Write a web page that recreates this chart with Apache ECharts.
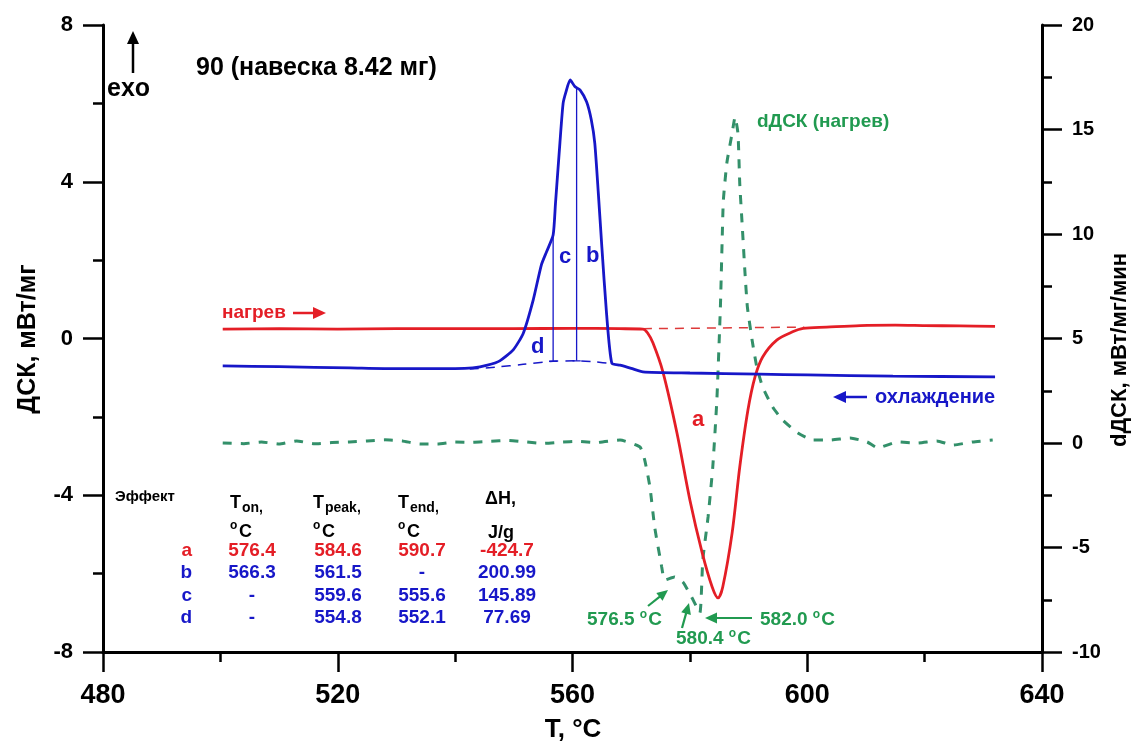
<!DOCTYPE html>
<html><head><meta charset="utf-8">
<script src="https://cdn.jsdelivr.net/npm/echarts@6/dist/echarts.min.js"></script>
<style>html,body{margin:0;padding:0;background:#fff}#c{width:1140px;height:746px}</style>
</head><body><div id="c"></div>
<script>
// ---------- data ----------
const xTicks = [480, 520, 560, 600, 640];
const yLeftTicks = [-8, -4, 0, 4, 8];
const yRightTicks = [-10, -5, 0, 5, 10, 15, 20];

// heating DSC (red), mW/mg
const heatT   = [500.4, 510, 520, 530, 540, 550, 560, 568, 572.0, 572.8, 573.7, 575.4, 577.8, 580.0, 582.1, 583.8, 584.8, 585.6, 587.2, 588.5, 589.9, 591.1, 592.4, 594.8, 597.5, 599.3, 603.3, 609.0, 615, 620, 626, 632.0];
const heatDSC = [0.24, 0.25, 0.24, 0.25, 0.25, 0.25, 0.26, 0.25, 0.24, 0.14, -0.11, -0.85, -2.41, -4.12, -5.47, -6.34, -6.62, -6.34, -4.96, -3.28, -1.82, -0.98, -0.47, -0.04, 0.17, 0.26, 0.29, 0.33, 0.34, 0.33, 0.32, 0.31];
// heating baseline (dashed red)
const heatBaseT   = [572.0, 599.5];
const heatBaseDSC = [0.25, 0.29];

// cooling DSC (blue)
const coolT   = [500.4, 510, 522.1, 530, 540, 543, 545.5, 547.6, 549.9, 551.6, 553.3, 554.7, 555.6, 556.7, 557.1, 557.85, 558.4, 558.9, 559.6, 560.4, 561.3, 562.4, 563.2, 563.8, 564.4, 565.0, 565.8, 566.7, 568.1, 570, 572.0, 580, 591.9, 600, 614.6, 632.0];
const coolDSC = [-0.70, -0.72, -0.75, -0.77, -0.77, -0.75, -0.68, -0.57, -0.29, 0.13, 0.98, 1.88, 2.22, 2.64, 3.45, 4.98, 6.0, 6.30, 6.60, 6.43, 6.34, 6.04, 5.58, 4.98, 3.71, 2.34, 0.64, -0.63, -0.68, -0.76, -0.85, -0.88, -0.91, -0.93, -0.96, -0.98];
// cooling baseline (dashed blue)
const coolBaseT   = [542.5, 547, 551.6, 556.7, 560.7, 564, 566.7];
const coolBaseDSC = [-0.78, -0.73, -0.66, -0.58, -0.57, -0.6, -0.64];
// vertical markers c and b
const markT    = [556.7, 560.7];
const markBase = [-0.58, -0.57];
const markTop  = [2.64, 6.40];

// derivative dDSC (green dashed), mW/mg/min
const dT   = [500.4, 504, 507, 510, 513, 516, 519, 522, 525, 528, 531, 534, 537, 540, 543, 546, 549, 552, 555, 558, 561, 564, 568.1, 571.5, 572.3, 573.2, 574.0, 575.2, 575.7, 577.4, 578.8, 580.3, 581.7, 582.2, 583.1, 583.9, 584.6, 585.2, 585.5, 585.7, 586.3, 587.2, 587.7, 588.2, 588.5, 588.9, 589.4, 589.8, 590.6, 591.4, 592.4, 594.1, 595.8, 598.4, 601.0, 603.8, 607.3, 610.2, 612.0, 615.3, 618.7, 622.1, 624.8, 628.2, 631.6];
const dDSC = [0.0, -0.03, 0.05, -0.05, 0.1, -0.04, 0.02, 0.05, 0.1, 0.15, 0.1, -0.05, -0.05, 0.05, 0.03, 0.08, 0.12, 0.05, -0.02, 0.04, 0.08, 0.02, 0.14, -0.19, -0.81, -2.11, -4.02, -5.93, -6.56, -6.41, -6.65, -7.37, -8.13, -5.6, -3.54, -1.15, 2.06, 6.5, 9.7, 11.6, 13.4, 14.83, 15.6, 14.8, 12.4, 10.5, 8.1, 6.5, 4.93, 3.64, 2.68, 1.72, 1.1, 0.48, 0.14, 0.14, 0.24, 0.05, -0.24, 0.05, 0.0, 0.1, -0.1, 0.05, 0.14];

// effect table
const tableEffects = ['a', 'b', 'c', 'd'];
const tableTon   = ['576.4', '566.3', '-', '-'];
const tableTpeak = ['584.6', '561.5', '559.6', '554.8'];
const tableTend  = ['590.7', '-', '555.6', '552.1'];
const tableDH    = ['-424.7', '200.99', '145.89', '77.69'];

// ---------- styling ----------
const RED = '#e41e26', BLUE = '#1717c8', GREEN = '#33906a', GTXT = '#219a50';
const F = '"Liberation Sans", Arial, sans-serif';
const FN = '"Liberation Sans Narrow", "Liberation Sans", Arial, sans-serif';
const zip = (a, b) => a.map((v, i) => [v, b[i]]);

const chart = echarts.init(document.getElementById('c'));

function axisCommon() {
  return {
    axisLine: { show: true, onZero: false, lineStyle: { color: '#000', width: 3 } },
    axisTick: { show: true, inside: false, length: 20, lineStyle: { color: '#000', width: 2.5 } },
    minorTick: { show: true, splitNumber: 2, length: 10, lineStyle: { color: '#000', width: 2.5 } },
    splitLine: { show: false },
    minorSplitLine: { show: false }
  };
}

const option = {
  animation: false,
  backgroundColor: '#fff',
  grid: { left: 103, right: 98, top: 25, bottom: 94 },
  xAxis: Object.assign(axisCommon(), {
    type: 'value', min: xTicks[0], max: xTicks[xTicks.length - 1], interval: xTicks[1] - xTicks[0],
    axisLabel: { fontFamily: FN, fontWeight: 'bold', fontSize: 27, color: '#000', margin: 30 }
  }),
  yAxis: [
    Object.assign(axisCommon(), {
      type: 'value', min: yLeftTicks[0], max: yLeftTicks[yLeftTicks.length - 1], interval: yLeftTicks[1] - yLeftTicks[0],
      position: 'left',
      axisLabel: { fontFamily: F, fontWeight: 'bold', fontSize: 22, color: '#000', margin: 30 }
    }),
    Object.assign(axisCommon(), {
      type: 'value', min: yRightTicks[0], max: yRightTicks[yRightTicks.length - 1], interval: yRightTicks[1] - yRightTicks[0],
      position: 'right',
      axisLabel: { fontFamily: F, fontWeight: 'bold', fontSize: 20, color: '#000', margin: 30 }
    })
  ],
  series: [
    { name: 'heatBase', type: 'line', yAxisIndex: 0, data: zip(heatBaseT, heatBaseDSC), showSymbol: false,
      lineStyle: { color: '#dd3a3a', width: 1.5, type: [9, 7] }, z: 2 },
    { name: 'coolBase', type: 'line', yAxisIndex: 0, data: zip(coolBaseT, coolBaseDSC), showSymbol: false, smooth: 0.3,
      lineStyle: { color: BLUE, width: 1.5, type: [9, 7] }, z: 2 },
    { name: 'dDSC', type: 'line', yAxisIndex: 1, data: zip(dT, dDSC), showSymbol: false, smooth: 0.15,
      lineStyle: { color: GREEN, width: 3, type: [9, 9] }, z: 3 },
    { name: 'heat', type: 'line', yAxisIndex: 0, data: zip(heatT, heatDSC), showSymbol: false, smooth: 0.3,
      lineStyle: { color: RED, width: 2.8 }, z: 4 },
    { name: 'cool', type: 'line', yAxisIndex: 0, data: zip(coolT, coolDSC), showSymbol: false, smooth: 0.2,
      lineStyle: { color: BLUE, width: 2.8 }, z: 5 }
  ].concat(markT.map((t, i) => ({
    name: 'mark' + i, type: 'line', yAxisIndex: 0, data: [[t, markBase[i]], [t, markTop[i]]], showSymbol: false,
    lineStyle: { color: BLUE, width: 1.3 }, z: 4
  }))).concat(markT.map((t, i) => ({
    name: 'cap' + i, type: 'line', yAxisIndex: 0, data: [[t - 0.7, markBase[i]], [t + 0.7, markBase[i]]], showSymbol: false,
    lineStyle: { color: BLUE, width: 1.3 }, z: 4
  })))
};
chart.setOption(option);

// ---------- annotations ----------
function txt(x, y, text, size, color, o) {
  o = o || {};
  return { type: 'text', x: x, y: y, rotation: o.rot || 0, z: 20,
    style: { text: text, fill: color, font: (o.w || 'bold') + ' ' + size + 'px ' + (o.f || F),
      align: o.align || 'left', verticalAlign: o.va || 'middle' } };
}
function arrow(x1, y1, x2, y2, color, w, hl, hw) {
  const a = Math.atan2(y2 - y1, x2 - x1);
  const bx = x2 - hl * Math.cos(a), by = y2 - hl * Math.sin(a);
  const px = -Math.sin(a) * hw / 2, py = Math.cos(a) * hw / 2;
  return [
    { type: 'line', z: 20, shape: { x1: x1, y1: y1, x2: bx + (x2 - bx) * 0.3, y2: by + (y2 - by) * 0.3 }, style: { stroke: color, lineWidth: w } },
    { type: 'polygon', z: 20, shape: { points: [[x2, y2], [bx + px, by + py], [bx - px, by - py]] }, style: { fill: color } }
  ];
}
function degText(x, y, num, size, color) {
  return { type: 'text', x: x, y: y, z: 20, style: {
    text: '{n|' + num + ' }{o|o}{n|C}', verticalAlign: 'middle', align: 'left',
    rich: { n: { fill: color, font: 'bold ' + size + 'px ' + F, verticalAlign: 'bottom', lineHeight: size + 2 },
            o: { fill: color, font: 'bold ' + Math.round(size * 0.62) + 'px ' + F, verticalAlign: 'top', lineHeight: size + 2, padding: [0, 1, 0, 0] } } } };
}

const g = [];
// axis titles
g.push(txt(28, 339, 'ДСК, мВт/мг', 25, '#000', { rot: Math.PI / 2, align: 'center' }));
g.push(txt(1120, 350, 'dДСК, мВт/мг/мин', 22, '#000', { rot: Math.PI / 2, align: 'center' }));
g.push({ type: 'text', x: 573, y: 730, z: 20, style: { text: 'T, °C', fill: '#000', font: 'bold 26px ' + FN, align: 'center', verticalAlign: 'middle' } });

// top-left labels
g.push(txt(196, 68, '90 (навеска 8.42 мг)', 25, '#000'));
g.push(txt(107, 89, 'exo', 25, '#000'));
g.push(...arrow(133, 73, 133, 31, '#000', 2.5, 13, 12));

// curve labels
g.push(txt(222, 313, 'нагрев', 19, RED));
g.push(...arrow(293, 313, 326, 313, RED, 2.5, 13, 12));
g.push(txt(875, 397, 'охлаждение', 20, BLUE));
g.push(...arrow(867, 397, 833, 397, BLUE, 2.5, 13, 12));
g.push(txt(757, 122, 'dДСК (нагрев)', 19, GTXT));
g.push(txt(692, 420, 'a', 22, RED));
g.push(txt(559, 257, 'c', 22, BLUE));
g.push(txt(586, 256, 'b', 22, BLUE));
g.push(txt(531, 347, 'd', 22, BLUE));

// green annotations
g.push(degText(587, 619, '576.5', 19, GTXT));
g.push(...arrow(648, 606, 668, 590, GTXT, 2.2, 11, 10));
g.push(degText(676, 638, '580.4', 19, GTXT));
g.push(...arrow(682, 628, 689, 603, GTXT, 2.2, 11, 10));
g.push(degText(760, 619, '582.0', 19, GTXT));
g.push(...arrow(752, 618, 705, 618, GTXT, 2.2, 12, 11));

// table
g.push(txt(115, 497, 'Эффект', 15, '#000'));
[[230, 'on,'], [313, 'peak,'], [398, 'end,']].forEach(function (h) {
  g.push(txt(h[0], 503, 'T', 18, '#000'));
  g.push(txt(h[0] + 12, 508, h[1], 14, '#000'));
  g.push(txt(h[0], 526, 'o', 12, '#000'));
  g.push(txt(h[0] + 9, 532, 'C', 18, '#000'));
});
g.push(txt(485, 499, 'ΔH,', 18, '#000'));
g.push(txt(488, 533, 'J/g', 18, '#000'));
const rowY = [551, 573, 596, 618];
const colX = [252, 338, 422, 507];
tableEffects.forEach(function (e, i) {
  const c = i === 0 ? RED : BLUE;
  g.push(txt(192, rowY[i], e, 19, c, { align: 'right' }));
  [tableTon[i], tableTpeak[i], tableTend[i], tableDH[i]].forEach(function (v, j) {
    g.push(txt(colX[j], rowY[i], v, 19, c, { align: 'center' }));
  });
});

chart.setOption({ graphic: g });
</script>
</body></html>
